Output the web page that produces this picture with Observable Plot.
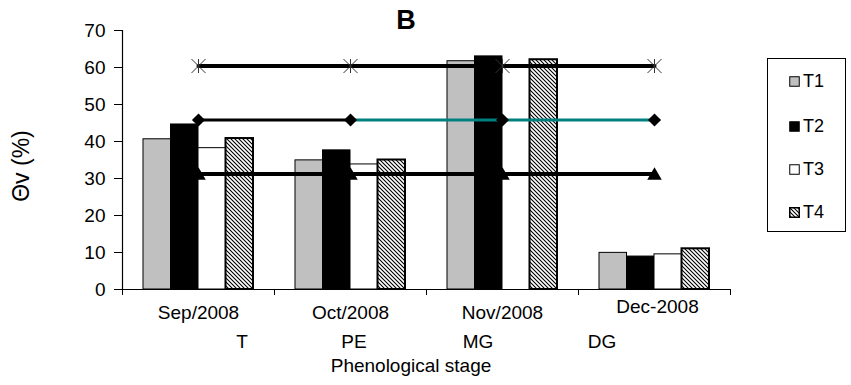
<!DOCTYPE html>
<html>
<head>
<meta charset="utf-8">
<script src="https://cdn.jsdelivr.net/npm/d3@7"></script>
<script src="https://cdn.jsdelivr.net/npm/@observablehq/plot@0.6"></script>
<style>
  html, body { margin: 0; padding: 0; background: white; }
  #wrap { position: relative; width: 851px; height: 385px; font-family: "Liberation Sans", Arial, sans-serif; color: black; }
  .lbl { position: absolute; transform: translate(-50%, -50%); line-height: 1; white-space: nowrap; }
  #legend { position: absolute; left: 767px; top: 58px; width: 79px; height: 174px; border: 1.5px solid black; box-sizing: border-box; }
  .item { position: absolute; left: 21px; display: flex; align-items: center; font-size: 18px; transform: translateY(-50%); line-height: 1; }
  .item svg { margin-right: 3px; display: block; }
</style>
</head>
<body>
<svg width="0" height="0" style="position:absolute">
  <defs>
    <pattern id="hatch" patternUnits="userSpaceOnUse" width="4" height="4">
      <rect width="4" height="4" fill="white"/>
      <path d="M-1,-1 L5,5 M-1,3 L1,5 M3,-1 L5,1" stroke="black" stroke-width="1.1"/>
    </pattern>
  </defs>
</svg>
<div id="wrap"></div>
<script>
// ---- data ----
const months = ["Sep/2008", "Oct/2008", "Nov/2008", "Dec-2008"];
const stages = ["T", "PE", "MG", "DG"];
const series = ["T1", "T2", "T3", "T4"];
const T1 = [40.6, 34.9, 61.7, 9.9];
const T2 = [44.6, 37.6, 63.0, 8.9];
const T3 = [38.2, 33.8, null, 9.5];
const T4 = [40.8, 35.0, 62.1, 11.0];
const lineStar = [60.4, 60.4, 60.4, 60.4];
const lineDiamond = [45.8, 45.8, 45.8, 45.8];
const lineTriangle = [31.2, 31.2, 31.2, 31.2];
const yTicks = [0, 10, 20, 30, 40, 50, 60, 70];
const title = "B";
const yLabel = "Θv (%)";
const xLabel = "Phenological stage";

// ---- layout / styles ----
const seriesValues = [T1, T2, T3, T4];
const barW = 27.5 / 152;
const groupPad = (1 - 4 * barW) / 2;
const barStyles = [
  { fill: "#c0c0c0", stroke: "black", strokeWidth: 1 },
  { fill: "black", stroke: "black", strokeWidth: 1 },
  { fill: "white", stroke: "black", strokeWidth: 1 },
  { fill: "url(#hatch)", stroke: "black", strokeWidth: 2 }
];

const barData = months.flatMap((m, i) => series.map((s, k) => ({ i, k, s, v: seriesValues[k][i] })))
  .filter(d => d.v != null);

const pts = arr => arr.map((v, i) => ({ x: i + 0.5, y: v }));
const starPts = pts(lineStar), diaPts = pts(lineDiamond), triPts = pts(lineTriangle);

const starSymbol = {
  draw(ctx, size) {
    const r = Math.sqrt(size / Math.PI);
    ctx.moveTo(-r, -r); ctx.lineTo(r, r);
    ctx.moveTo(-r, r); ctx.lineTo(r, -r);
    ctx.moveTo(0, -r); ctx.lineTo(0, r);
  }
};

const barMarks = series.map((s, k) => Plot.rect(barData.filter(d => d.k === k), {
  x1: d => d.i + groupPad + d.k * barW,
  x2: d => d.i + groupPad + (d.k + 1) * barW,
  y1: 0, y2: "v",
  ...barStyles[k]
}));

const chart = Plot.plot({
  width: 851, height: 385,
  marginLeft: 122, marginRight: 121, marginTop: 30, marginBottom: 96,
  x: { domain: [0, 4] },
  y: { domain: [0, 70] },
  style: { fontFamily: "'Liberation Sans', Arial, sans-serif", fontSize: "19px", color: "black", background: "transparent" },
  marks: [
    ...barMarks,
    Plot.ruleY([0], { stroke: "black", strokeWidth: 1.2 }),
    Plot.ruleX([0], { stroke: "black", strokeWidth: 1.2 }),
    Plot.axisY({ ticks: yTicks, tickSize: 8, tickPadding: 9, label: null, fontSize: 19 }),
    Plot.axisX({ ticks: d3.range(5), tickSize: 6, tickFormat: () => "", label: null }),
    Plot.text(months.slice(0, 3), { x: (d, i) => i + 0.5, text: d => d, frameAnchor: "bottom", dy: 29, fontSize: 19 }),
    Plot.text(months.slice(3), { x: () => 3.5, text: d => d, frameAnchor: "bottom", dy: 23, dx: 3, fontSize: 19 }),
    // reference lines
    Plot.line(starPts, { x: "x", y: "y", stroke: "black", strokeWidth: 4 }),
    Plot.line(diaPts.slice(0, 2), { x: "x", y: "y", stroke: "black", strokeWidth: 3 }),
    Plot.line(diaPts.slice(1), { x: "x", y: "y", stroke: "#008080", strokeWidth: 3 }),
    Plot.line(triPts, { x: "x", y: "y", stroke: "black", strokeWidth: 4 }),
    Plot.dot(starPts, { x: "x", y: "y", symbol: starSymbol, r: 7, stroke: "#333", strokeWidth: 1, fill: "none" }),
    Plot.dot(diaPts, { x: "x", y: "y", symbol: "diamond2", r: 5.9, fill: "black", stroke: "none" }),
    Plot.dot(triPts, { x: "x", y: "y", symbol: "triangle", r: 5.4, fill: "black", stroke: "none", dy: 1.5 })
  ]
});

const wrap = document.getElementById("wrap");
wrap.appendChild(chart);

function addLabel(text, x, y, css) {
  const d = document.createElement("div");
  d.className = "lbl";
  d.textContent = text;
  d.style.left = x + "px";
  d.style.top = y + "px";
  Object.assign(d.style, css || {});
  wrap.appendChild(d);
  return d;
}
addLabel(title, 406, 20, { fontSize: "27px", fontWeight: "bold" });
const yl = addLabel(yLabel, 21, 166, { fontSize: "23px" });
yl.style.transform = "translate(-50%, -50%) rotate(-90deg)";
const stageX = [242, 354, 478, 602];
stages.forEach((s, i) => addLabel(s, stageX[i], 341, { fontSize: "19px" }));
addLabel(xLabel, 411, 365, { fontSize: "19px" });

// legend
const legend = document.createElement("div");
legend.id = "legend";
const itemY = [22, 67, 110, 153];
series.forEach((s, k) => {
  const it = document.createElement("div");
  it.className = "item";
  it.style.top = itemY[k] + "px";
  const st = barStyles[k];
  it.innerHTML = `<svg width="11" height="11"><rect x="0.75" y="0.75" width="9.5" height="9.5" fill="${st.fill}" stroke="black" stroke-width="${k === 3 ? 1.5 : 1}"/></svg><span>${s}</span>`;
  legend.appendChild(it);
});
wrap.appendChild(legend);
</script>
</body>
</html>
